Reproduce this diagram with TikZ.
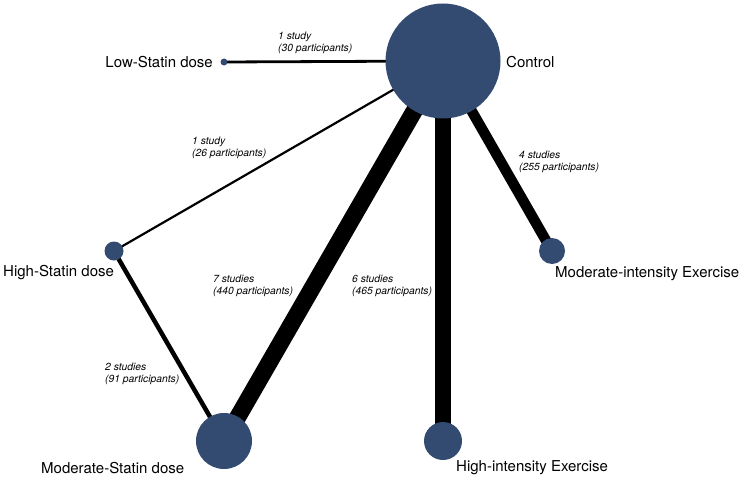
\documentclass[tikz,border=0pt]{standalone}
\usepackage{fontspec}
\setmainfont{TeX Gyre Heros}
\usetikzlibrary{backgrounds}
\definecolor{nodeblue}{RGB}{52,75,113}
\begin{document}
\begin{tikzpicture}[x=1pt,y=-1pt,
  trt/.style={circle,fill=nodeblue,inner sep=0pt,minimum size=#1},
  lbl/.style={font=\fontsize{15}{18}\selectfont,inner sep=0pt},
  elbl/.style={font=\fontsize{10.3}{12.3}\selectfont\itshape,inner sep=0pt,align=left,anchor=west},
  edge/.style={line width=#1,black}]
\useasboundingbox (0,0) rectangle (746,487);
% treatment nodes
\node[trt=115pt] (ctrl) at (443,61) {};
\node[trt=7pt] (low) at (224,62) {};
\node[trt=19pt] (high) at (114,251) {};
\node[trt=56pt] (mod) at (224,441) {};
\node[trt=38pt] (hie) at (443,441) {};
\node[trt=26pt] (mie) at (552,251) {};
% node labels
\node[lbl,anchor=east] (lowl) at (213,62) {Low-Statin dose};
\node[lbl,anchor=west] (ctrll) at (506,62) {Control};
\node[lbl,anchor=west] (highl) at (3,273) {High-Statin dose};
\node[lbl,anchor=west] (modl) at (41,468) {Moderate-Statin dose};
\node[lbl,anchor=west] (hiel) at (456,468) {High-intensity Exercise};
\node[lbl,anchor=west] (miel) at (555,274) {Moderate-intensity Exercise};
% edges
\begin{scope}[on background layer]
\draw[edge=2.8pt] (low.center) -- (ctrl.center);
\draw[edge=2.2pt] (high.center) -- (ctrl.center);
\draw[edge=4.5pt] (high.center) -- (mod.center);
\draw[edge=17pt] (mod.center) -- (ctrl.center);
\draw[edge=15.5pt] (hie.center) -- (ctrl.center);
\draw[edge=10.5pt] (mie.center) -- (ctrl.center);
\end{scope}
% edge labels
\node[elbl] (e1) at (278,43) {1 study\\(30 participants)};
\node[elbl] (e2) at (192,147.5) {1 study\\(26 participants)};
\node[elbl] (e3) at (105,373.5) {2 studies\\(91 participants)};
\node[elbl] (e4) at (213,286) {7 studies\\(440 participants)};
\node[elbl] (e5) at (352,286) {6 studies\\(465 participants)};
\node[elbl] (e6) at (519,161.5) {4 studies\\(255 participants)};
\end{tikzpicture}
\end{document}
